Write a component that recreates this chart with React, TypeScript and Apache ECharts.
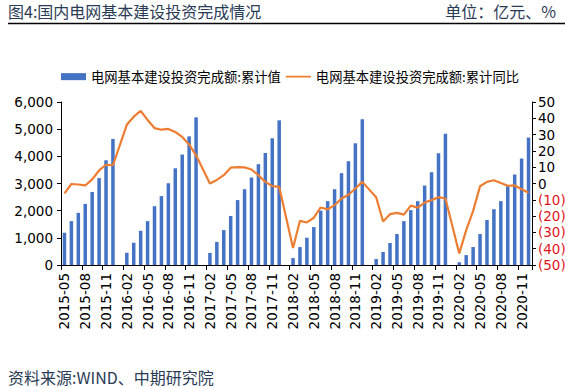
import React, { useEffect, useRef } from "react";
import * as echarts from "echarts";

// 2015-05 .. 2020-12 monthly categories (January has no cumulative value)
const years = [2015, 2016, 2017, 2018, 2019, 2020];
const categories: string[] = [];
years.forEach((y) => {
  for (let m = 1; m <= 12; m++) {
    if (y === 2015 && m < 5) continue;
    categories.push(`${y}-${m < 10 ? "0" + m : m}`);
  }
});

// 电网基本建设投资完成额:累计值 (亿元)
const cumValue2015 = [1190, 1615, 1920, 2250, 2690, 3200, 3855, 4640];
const cumValue2016 = [null, 450, 820, 1260, 1615, 2165, 2535, 3010, 3560, 4065, 4735, 5435];
const cumValue2017 = [null, 445, 850, 1285, 1805, 2390, 2790, 3220, 3710, 4125, 4665, 5325];
const cumValue2018 = [null, 255, 660, 1005, 1395, 2000, 2350, 2790, 3380, 3820, 4480, 5365];
const cumValue2019 = [null, 220, 480, 810, 1140, 1615, 2020, 2350, 2925, 3415, 4115, 4835];
const cumValue2020 = [null, 100, 365, 660, 1140, 1655, 2055, 2350, 2900, 3330, 3920, 4690];

// 电网基本建设投资完成额:累计同比 (%)
const yoy2015 = [-6.1, -0.3, -0.6, -1.2, 2.5, 8, 11.5, 11.2];
const yoy2016 = [null, 36, 41, 44.5, 39, 34, 33, 33.5, 31.6, 28.6, 24, 17.3];
const yoy2017 = [null, 0, 2.2, 5.1, 9.7, 10, 9.9, 8.6, 5.1, 1, -1.6, -2.1];
const yoy2018 = [null, -39.6, -22.9, -23.9, -21, -14.7, -15.9, -13.3, -9.2, -6.9, -3.1, 1];
const yoy2019 = [null, -8.4, -23.3, -18.8, -18, -19.1, -13.6, -14.8, -11.7, -10.2, -8.4, -9.2];
const yoy2020 = [null, -42.9, -28.6, -16.8, -1.7, 1, 2, 0.3, -1.4, -1.2, -3.5, -5.7];

const barValues = [
  ...cumValue2015, ...cumValue2016, ...cumValue2017,
  ...cumValue2018, ...cumValue2019, ...cumValue2020,
];
const lineValues = [
  ...yoy2015, ...yoy2016, ...yoy2017, ...yoy2018, ...yoy2019, ...yoy2020,
];

const barName = "电网基本建设投资完成额:累计值";
const lineName = "电网基本建设投资完成额:累计同比";
const titleText = "图4:国内电网基本建设投资完成情况";
const unitText = "单位：亿元、%";
const sourceText = "资料来源:WIND、中期研究院";

const CJK = "'Noto Sans CJK SC', sans-serif";
const NUM = "'DejaVu Sans', sans-serif";

// legend icon: a thin horizontal stroke centred in a 25x7 box
const lineIcon =
  "path://M0,0 L0.01,0 L0.01,0.01 Z M0,2.6 L25,2.6 L25,4.4 L0,4.4 Z M24.99,7 L25,7 L25,6.99 Z";

export default function App() {
  const ref = useRef<HTMLDivElement>(null);
  useEffect(() => {
    if (!ref.current) return;
    const chart = echarts.init(ref.current, undefined, { renderer: "svg" });
    const option: any = {
      animation: false,
      backgroundColor: "#ffffff",
      textStyle: { fontFamily: NUM },
      graphic: [
        {
          type: "text",
          x: 8,
          y: 11,
          style: {
            text: titleText,
            fill: "#2a3b55",
            font: `16px ${CJK}`,
            verticalAlign: "middle",
          },
        },
        {
          type: "text",
          x: 556,
          y: 11,
          style: {
            text: unitText,
            fill: "#2a3b55",
            font: `16px ${CJK}`,
            align: "right",
            verticalAlign: "middle",
          },
        },
        {
          type: "line",
          shape: { x1: 8, y1: 23.5, x2: 565, y2: 23.5 },
          style: { stroke: "#000", lineWidth: 1.3 },
        },
        {
          type: "text",
          x: 8,
          y: 377,
          style: {
            text: sourceText,
            fill: "#2a3b55",
            font: `16px ${CJK}`,
            verticalAlign: "middle",
          },
        },
      ],
      legend: {
        left: 61,
        top: 70,
        padding: 0,
        itemWidth: 25,
        itemHeight: 7,
        itemGap: 5,
        textStyle: { fontSize: 13.3, fontFamily: CJK, color: "#000" },
        data: [
          { name: barName, icon: "rect" },
          { name: lineName, icon: lineIcon, itemStyle: { color: "#ED7D31" } },
        ],
      },
      grid: { left: 61, right: 41, top: 102, bottom: 123 },
      xAxis: {
        type: "category",
        data: categories,
        boundaryGap: true,
        axisLine: { lineStyle: { color: "#000", width: 1 } },
        axisTick: { show: true, interval: 2, length: 5, lineStyle: { color: "#000" } },
        axisLabel: {
          interval: 2,
          rotate: 90,
          margin: 8,
          color: "#000",
          fontSize: 13.5,
          fontFamily: NUM,
        },
        splitLine: { show: false },
      },
      yAxis: [
        {
          type: "value",
          min: 0,
          max: 6000,
          interval: 1000,
          position: "left",
          axisLine: { show: true, lineStyle: { color: "#000", width: 1 } },
          axisTick: { show: true, length: 4, lineStyle: { color: "#000" } },
          splitLine: { show: false },
          axisLabel: {
            color: "#000",
            fontSize: 13.5,
            fontFamily: NUM,
            margin: 8,
            formatter: (v: number) => v.toLocaleString("en-US"),
          },
        },
        {
          type: "value",
          min: -50,
          max: 50,
          interval: 10,
          position: "right",
          axisLine: { show: true, lineStyle: { color: "#000", width: 1 } },
          axisTick: { show: true, length: 4, lineStyle: { color: "#000" } },
          splitLine: { show: false },
          axisLabel: {
            margin: 6,
            formatter: (v: number) => (v < 0 ? `{neg|(${-v})}` : `{pos|${v}}`),
            rich: {
              neg: { color: "#e0151c", fontSize: 13.5, fontFamily: NUM },
              pos: { color: "#000", fontSize: 13.5, fontFamily: NUM },
            },
          },
        },
      ],
      series: [
        {
          name: barName,
          type: "bar",
          yAxisIndex: 0,
          data: barValues,
          barWidth: 3.5,
          itemStyle: { color: "#4472C4" },
        },
        {
          name: lineName,
          type: "line",
          yAxisIndex: 1,
          data: lineValues,
          connectNulls: true,
          symbol: "none",
          lineStyle: { color: "#ED7D31", width: 2.2 },
          itemStyle: { color: "#ED7D31" },
        },
      ],
    };
    chart.setOption(option);
    return () => chart.dispose();
  }, []);
  return (
    <div
      ref={ref}
      style={{ position: "fixed", left: 0, top: 0, width: 573, height: 388 }}
    />
  );
}
